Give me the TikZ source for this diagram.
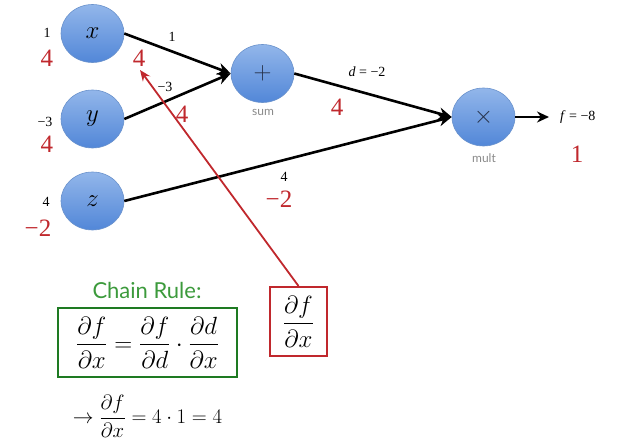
\documentclass[tikz,border=0pt]{standalone}
\usepackage{fontspec}
\usepackage{amsmath}
\usetikzlibrary{arrows.meta,shapes.geometric}
\setmainfont{Liberation Serif}
\newfontfamily\labelsans{Lato}
\definecolor{gatetop}{HTML}{92B6EA}
\definecolor{gatebot}{HTML}{5287D8}
\definecolor{gateline}{HTML}{6A92CC}
\definecolor{gradred}{HTML}{C0282D}
\definecolor{rulegreen}{HTML}{3C9A3C}
\definecolor{boxgreen}{HTML}{1E7A22}
\definecolor{opgray}{HTML}{8A8A8A}
\definecolor{opink}{HTML}{26324A}
\tikzset{
  gate/.style={ellipse, minimum width=63pt, minimum height=58pt, inner sep=0pt,
    top color=gatetop, bottom color=gatebot, draw=gateline, line width=0.6pt},
  edge/.style={line width=2.6pt, -{Stealth[length=13pt,width=12pt]}},
  fwd/.style={font=\fontsize{14}{15}\selectfont, inner sep=1pt},
  bwd/.style={text=gradred, font=\fontsize{25}{27}\selectfont, inner sep=1pt},
  opname/.style={text=opgray, font=\labelsans\fontsize{12}{13}\selectfont, inner sep=1pt},
  opsym/.style={font=\fontsize{28}{30}\selectfont, text=opink}
}
\begin{document}
\begin{tikzpicture}[x=1pt,y=-1pt]
\useasboundingbox (0,0) rectangle (633,442);

% input and operation gates
\node[gate] (x) at (92.5,33.5) {\fontsize{26}{28}\selectfont$x$};
\node[gate] (y) at (92.5,119) {\fontsize{26}{28}\selectfont$y$};
\node[gate] (z) at (92.5,201) {\fontsize{26}{28}\selectfont$z$};
\node[gate] (s) at (262.5,73.5) {};
\node[opsym] at (s.center) {$+$};
\node[gate] (m) at (483.5,117) {};
\node[opsym] at (m.center) {$\times$};
\node[opname] (sl) at (263,112) {sum};
\node[opname] (ml) at (484,158) {mult};

% output value
\node[fwd, anchor=west] (f) at (559,117) {\textit{f} = −8};

% forward connections
\draw[edge] (x.east) -- (s.west);
\draw[edge] (y.east) -- (s.west);
\draw[edge] (s.east) -- (m.west);
\draw[edge] (z.east) -- (m.west);
\draw[line width=2.6pt, -{Stealth[length=12pt,width=11pt]}, shorten >=10pt] (m.east) -- (f.west);

% forward values (black) and gradients (red)
\node[fwd] (vx) at (47,33) {1};
\node[bwd] (gx) at (47,58) {4};
\node[fwd] (vy) at (45,122) {−3};
\node[bwd] (gy) at (47,144) {4};
\node[fwd] (vz) at (46,202) {4};
\node[bwd] (gz) at (38,228) {−2};

\node[fwd] (ex) at (172,37) {1};
\node[bwd] (egx) at (139,58) {4};
\node[fwd] (ey) at (165,87) {−3};
\node[bwd] (egy) at (182,114) {4};
\node[fwd] (ez) at (284,177) {4};
\node[bwd] (egz) at (279,199) {−2};
\node[fwd] (ed) at (367,72) {\textit{d} = −2};
\node[bwd] (egd) at (337,107) {4};
\node[bwd] (gf) at (577,154) {1};

% highlighted gradient df/dx
\node[draw=gradred, line width=2pt, minimum width=57pt, minimum height=69pt, inner sep=0pt]
  (dfdx) at (298.5,321.5) {\fontsize{23}{26}\selectfont$\dfrac{\partial f}{\partial x}$};
\coordinate (gtip) at (140,70);
\draw[gradred, line width=1.8pt, -{Stealth[length=11pt,width=9pt]}] (dfdx.north) -- (gtip);

% chain rule
\node[text=rulegreen, font=\labelsans\fontsize{22}{25}\selectfont] (cr) at (147,290) {Chain Rule:};
\node[draw=boxgreen, line width=2.4pt, minimum width=179pt, minimum height=69pt, inner sep=0pt]
  (chain) at (147.5,342.5) {\fontsize{23}{26}\selectfont$\dfrac{\partial f}{\partial x}=\dfrac{\partial f}{\partial d}\cdot\dfrac{\partial d}{\partial x}$};
\node (res) at (147.5,416) {\fontsize{21}{24}\selectfont$\rightarrow\dfrac{\partial f}{\partial x}=4\cdot1=4$};
\end{tikzpicture}
\end{document}
